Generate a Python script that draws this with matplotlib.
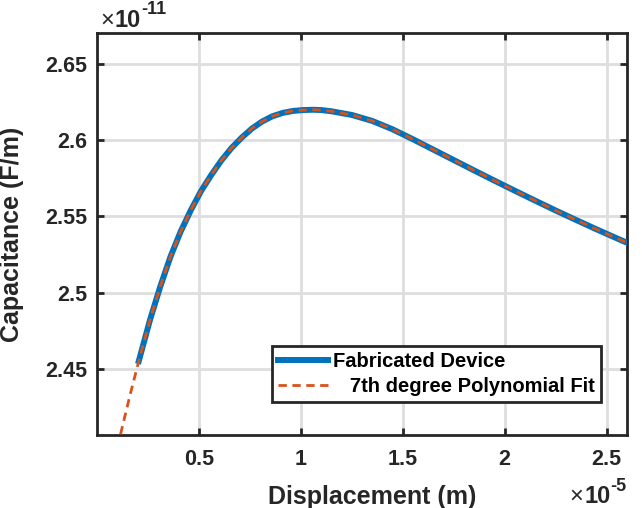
import matplotlib
matplotlib.use("Agg")
import matplotlib.pyplot as plt
from matplotlib.ticker import FuncFormatter

plt.rcParams['font.family'] = ['Liberation Sans', 'DejaVu Sans']

# единицы как на осях: x в 1e-5 м, y в 1e-11 Ф/м
x_scale = 1e-5
y_scale = 1e-11

# измеренная кривая (Fabricated Device)
dev_x = [0.205, 0.26, 0.31, 0.36, 0.41, 0.46, 0.51, 0.56, 0.61, 0.66, 0.71, 0.76,
         0.81, 0.86, 0.91, 0.96, 1.01, 1.06, 1.10, 1.15, 1.25, 1.35, 1.45, 1.55,
         1.65, 1.75, 1.85, 1.95, 2.05, 2.15, 2.25, 2.35, 2.45, 2.55, 2.60]
dev_y = [2.4554, 2.4823, 2.5040, 2.5235, 2.5400, 2.5540, 2.5665, 2.5770, 2.5866,
         2.5948, 2.6016, 2.6075, 2.6121, 2.6155, 2.6177, 2.6190, 2.6196, 2.6198,
         2.6196, 2.6188, 2.6164, 2.6125, 2.6070, 2.6005, 2.5937, 2.5869, 2.5801,
         2.5734, 2.5668, 2.5603, 2.5539, 2.5477, 2.5416, 2.5357, 2.5328]

# аппроксимация полиномом 7-й степени (продолжается ниже оси)
fit_x = [0.100, 0.122, 0.160] + dev_x
fit_y = [2.3986, 2.4111, 2.4320] + dev_y

x_ticks = [0.5, 1.0, 1.5, 2.0, 2.5]
y_ticks = [2.45, 2.5, 2.55, 2.6, 2.65]

fig = plt.figure(figsize=(6.42, 5.08), dpi=100)
ax = fig.add_axes([0.1511, 0.1437, 0.8255, 0.7913])

ax.plot([v * x_scale for v in dev_x], [v * y_scale for v in dev_y],
        color="#0072BD", lw=4.3, label="Fabricated Device", solid_joinstyle='round', zorder=3)
ax.plot([v * x_scale for v in fit_x], [v * y_scale for v in fit_y],
        color="#D95319", lw=2.0, dashes=(3, 2), label="   7th degree Polynomial Fit", zorder=4)

ax.set_xlim(0, 2.6 * x_scale)
ax.set_ylim(2.407 * y_scale, 2.67 * y_scale)
ax.set_xticks([v * x_scale for v in x_ticks])
ax.set_yticks([v * y_scale for v in y_ticks])
ax.xaxis.set_major_formatter(FuncFormatter(lambda v, p: '%g' % round(v / x_scale, 4)))
ax.yaxis.set_major_formatter(FuncFormatter(lambda v, p: '%g' % round(v / y_scale, 4)))

ax.grid(True, color="#dedede", lw=2)
ax.set_axisbelow(True)
for s in ax.spines.values():
    s.set_linewidth(2)
    s.set_color("#262626")
ax.tick_params(direction='in', length=5, width=2, color="#262626", top=True, right=True,
               labelsize=15.5, labelcolor="#262626")
ax.tick_params(axis='x', pad=10)
ax.tick_params(axis='y', pad=7)
for lab in ax.get_xticklabels() + ax.get_yticklabels():
    lab.set_fontweight('bold')

ax.set_xlabel("Displacement (m)", fontsize=18, fontweight='bold', color="#262626")
ax.set_ylabel("Capacitance (F/m)", fontsize=18, fontweight='bold', color="#262626")
ax.xaxis.set_label_coords(0.519, -0.125)
ax.yaxis.set_label_coords(-0.137, 0.5)

# множители осей, как в MATLAB: "×" обычным, "10" и степень жирным
c = "#262626"
fig.text(100 / 642, 1 - 27 / 508, "\u00d7", fontsize=17, color=c, ha='left', va='baseline')
fig.text(115 / 642, 1 - 27 / 508, "10", fontsize=17, fontweight='bold', color=c,
         ha='left', va='baseline')
fig.text(141 / 642, 1 - 14 / 508, "-11", fontsize=13, fontweight='bold', color=c,
         ha='left', va='baseline')
fig.text(569 / 642, 1 - 503 / 508, "\u00d7", fontsize=17, color=c, ha='left', va='baseline')
fig.text(584 / 642, 1 - 503 / 508, "10", fontsize=17, fontweight='bold', color=c,
         ha='left', va='baseline')
fig.text(610 / 642, 1 - 491 / 508, "-5", fontsize=13, fontweight='bold', color=c,
         ha='left', va='baseline')

leg = ax.legend(loc='lower right', bbox_to_anchor=(0.951, 0.082), borderaxespad=0,
                prop={'weight': 'bold', 'size': 14.5}, fancybox=False, framealpha=1,
                edgecolor="#262626", handlelength=2.5, borderpad=0.3, labelspacing=0.3,
                handletextpad=0.25)
leg.get_frame().set_linewidth(2)

fig.savefig("out.png", dpi=100)
